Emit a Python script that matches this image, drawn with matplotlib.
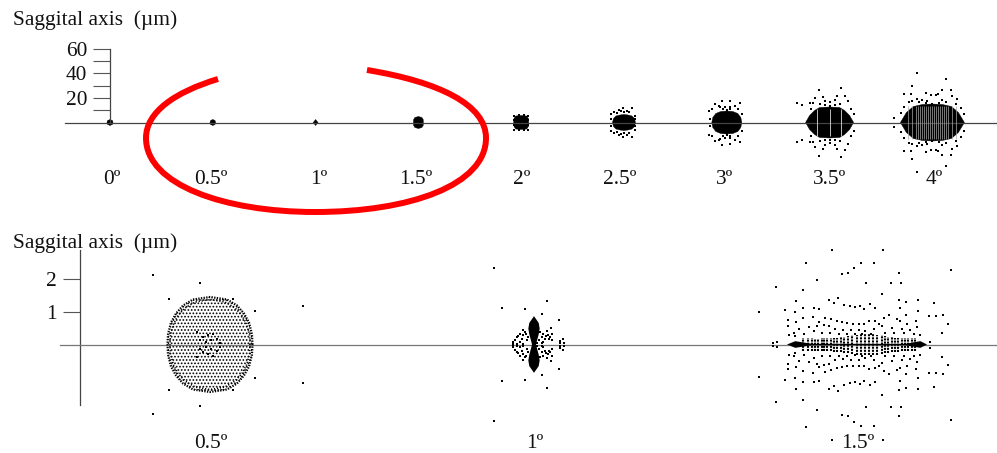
import numpy as np
import matplotlib
matplotlib.use("Agg")
import matplotlib.pyplot as plt
from matplotlib.patches import PathPatch, Polygon
from matplotlib.path import Path

plt.rcParams["font.family"] = ["Liberation Serif", "DejaVu Serif"]
plt.rcParams["hatch.linewidth"] = 0.8

W, H = 997, 453
FS = 15.4

# top panel: field angles and blob outlines (half width, height in px, upper half)
top_fields = [0, 0.5, 1, 1.5, 2, 2.5, 3, 3.5, 4]
top_labels = ["0º", "0.5º", "1º", "1.5º", "2º", "2.5º", "3º", "3.5º", "4º"]
top_label_px = [112, 211, 319, 416, 522, 620, 725, 830, 934]
blob_w = [[3, 2.6, 0], [2.8, 2.2, 0], [2.5, 1.5, 0], [5, 4.8, 3.5, 0], [7.5, 7.2, 5.5, 0],
          [11.5, 10.5, 8, 4, 0], [15, 14, 11, 6, 0], [24, 20, 15, 10, 0], [32, 26, 19, 10, 0]]
blob_h = [[0, 1.8, 3], [0, 2, 3], [0, 1, 3], [0, 3, 5, 6], [0, 4, 6.5, 7],
          [0, 4, 6.5, 7.5, 8], [0, 5, 9, 11, 11.5], [0, 7, 12, 15, 15.5], [0, 10, 16, 18, 18.5]]

f05_x = [632, 650, 640]
f05_y = [358, 362, 355]
f2_x = [100, 115, 130, 142, 100, 142]
f2_y = [165, 163, 163, 165, 178, 178]
f25_x = [428, 455, 415, 400, 445, 392, 462, 410, 430, 392, 462, 420, 440]
f25_y = [142, 142, 148, 155, 155, 175, 165, 158, 155, 160, 175, 152, 150]
f3_x = [720, 745, 775, 700, 690, 683, 730, 745, 760, 685, 712, 770, 780, 725, 735, 745, 715]
f3_y = [120, 122, 128, 130, 145, 150, 140, 140, 135, 175, 135, 145, 160, 145, 148, 145, 138]
f35_x = [118, 183, 130, 172, 195, 205, 100, 92, 68, 52, 135, 150, 165, 105, 222, 215, 120, 182, 95, 135, 150, 165]
f35_y = [87, 82, 108, 106, 105, 122, 127, 127, 133, 128, 120, 125, 118, 112, 160, 145, 130, 130, 145, 133, 135, 133]
f4_x = [414, 502, 398, 375, 397, 441, 455, 470, 478, 490, 515, 518, 535, 415, 430, 365, 345, 390, 400,
        530, 545, 555, 445, 490, 375, 420, 440, 460, 480, 500]
f4_y = [38, 57, 77, 100, 100, 98, 103, 103, 100, 88, 88, 107, 115, 115, 118, 157, 172, 125, 122,
        130, 142, 160, 122, 118, 140, 125, 128, 130, 128, 125]
stripes_4 = [-24, -20, -16, -14, -12, -10, -8, -6, -4, -2, 0, 2, 4, 6, 8, 10, 12, 14, 16, 20, 24]
stripes_35 = [-13, 0, 11]

# bottom panel
bot_labels = ["0.5º", "1º", "1.5º"]
bot_label_px = [211, 535, 858]
blob05_w = [42.5, 42, 39, 34, 27, 17, 0]
blob05_h = [0, 10, 22, 31, 39, 45, 47.5]
rim05_w = [40, 39.5, 36.5, 32, 25, 15, 0]
rim05_h = [0, 9.5, 20.5, 29, 36.5, 42.5, 45]
spots05_x = [460, 600, 507, 700, 765, 909]
spots05_y = [150, 173, 222, 222, 258, 243]
dark05_x = [625, 610, 640, 600, 632, 650, 618, 590, 660]
dark05_y = [330, 335, 325, 345, 345, 340, 350, 320, 352]

arrow_w = [0, 14, 17, 14, 9, 6]
arrow_h = [85, 65, 48, 30, 12, 0]
spots1_x = [42, 67, 135, 200, 185, 237, 212, 215, 250, 240, 252, 240, 100, 98, 110, 120, 130, 135, 125,
            120, 130, 140, 110, 180, 190, 205, 215, 195, 190, 200, 210, 175, 185, 105, 115, 128, 138, 145,
            178, 186, 198, 208, 170]
spots1_y = [-96, 24, 27, 3, 41, 60, 84, 100, 117, 122, 128, 128, 125, 132, 110, 100, 105, 95, 115,
            125, 130, 120, 130, 95, 100, 105, 120, 115, 125, 92, 110, 88, 110, 118, 108, 88, 100, 110,
            120, 128, 108, 115, 128]

spindle_x = [125, 150, 200, 480, 525, 545]
spindle_y = [315, 305, 313, 313, 305, 315]
col_x = [40, 55, 65, 75, 85, 95, 103, 112, 122, 132, 142, 152, 162, 175, 187, 200, 212, 225, 238,
         250, 262, 275, 285, 295, 305, 315, 325, 335, 345, 355, 365, 375]
col_h = [20, 19, 20, 18, 18, 19, 19, 20, 20, 21, 21, 22, 24, 26, 28, 30, 32, 32, 32,
         32, 30, 28, 26, 24, 22, 21, 21, 20, 20, 19, 20, 20]
spots15_x = [261, 414, 182, 348, 387, 327, 618, 291, 308, 462, 216, 363, 437, 468, 92, 173, 411, 279,
             250, 265, 153, 460, 483, 518, 567, 296, 314, 328, 345, 357, 375, 388, 222, 207, 174, 119,
             150, 42, 464, 518, 552, 572, 594, 483, 430, 415, 174, 202, 127, 153, 127, 608, 513, 486,
             455, 465, 591, 555, 82, 96, 222, 240, 258, 275, 290, 305, 322, 340, 355, 372, 388, 400,
             160, 190, 215, 235, 250, 268, 292, 318, 340, 360, 385, 410, 440, 470, 495, 515, 145, 175,
             205, 230, 255, 280, 305, 330, 350, 378, 420, 445, 475, 505, 130, 150, 525]
spots15_y = [30, 30, 69, 71, 71, 84, 90, 104, 101, 100, 120, 129, 129, 129, 143, 150, 164, 176,
             182, 191, 183, 180, 186, 182, 189, 195, 199, 203, 198, 207, 193, 204, 207, 204, 204, 210,
             216, 218, 205, 214, 230, 230, 226, 226, 226, 235, 236, 231, 241, 248, 258, 254, 243, 252,
             239, 245, 279, 306, 310, 308, 247, 234, 238, 245, 248, 250, 252, 252, 252, 243, 245, 252,
             267, 263, 258, 255, 258, 268, 272, 270, 270, 275, 268, 260, 265, 268, 272, 262, 280, 283,
             275, 280, 281, 282, 282, 283, 282, 282, 280, 280, 280, 282, 285, 290, 285]

# red hand drawn loop: bezier vertices, px in the figure
red_x = [218, 175, 146, 146, 146, 225, 315, 410, 486, 486, 486, 440, 367]
red_y = [79, 92, 112, 138, 185, 212, 212, 212, 185, 138, 105, 82, 70]

fig = plt.figure(figsize=(W / 100, H / 100), dpi=100)


def panel(y_top, y_bot):
    a = fig.add_axes([0, 1 - y_bot / H, 1, (y_bot - y_top) / H])
    a.patch.set_alpha(0)
    for s in ["top", "right"]:
        a.spines[s].set_visible(False)
    a.xaxis.set_visible(False)
    return a


def mirrored(a, x0, cx, cy, xs, ys, ppx, ppy, s=0.75):
    dx = (np.array(xs) - cx) / 3 / ppx
    dy = (cy - np.array(ys)) / 3 / ppy
    a.scatter(x0 + np.r_[dx, dx], np.r_[dy, -dy], s=s, c="k", marker="s", linewidths=0, zorder=3)


def outline(x0, w, h):
    return np.c_[x0 + np.r_[w, -w[::-1], -w, w[::-1]], np.r_[h, h[::-1], -h, -h[::-1]]]


# ---- top panel ----
ax1 = panel(0, 225)
top_ppx, top_ppy = 205.6, 1.233
y0_1 = 122.5
ax1.set_xlim(-110 / top_ppx, (W - 110) / top_ppx)
ax1.set_ylim((y0_1 - 225) / top_ppy, y0_1 / top_ppy)
ax1.spines["left"].set_position(("axes", 110 / W))
ax1.spines["left"].set_bounds(0, 60)
ax1.spines["bottom"].set_position(("data", 0))
ax1.spines["bottom"].set_bounds(-45 / top_ppx, (W - 110) / top_ppx)
ax1.set_yticks([10, 20, 30, 40, 50, 60], ["", "20", "", "40", "", "60"], fontsize=FS, color="#111111")
ax1.tick_params(axis="y", length=12.5, width=0.8, color="#555555", pad=4)
for s in ["left", "bottom"]:
    ax1.spines[s].set_color("#444444")
    ax1.spines[s].set_linewidth(0.9)

for f, w, h in zip(top_fields, blob_w, blob_h):
    xy = outline(f, np.array(w, float) / top_ppx, np.array(h, float) / top_ppy)
    ax1.add_patch(Polygon(xy, closed=True, fc="k", ec="k", lw=0.3, zorder=2))

ax1.vlines(4 + np.array(stripes_4) / top_ppx, -13, 13, color="#aaaaaa", lw=0.5, zorder=3)
ax1.vlines(3.5 + np.array(stripes_35) / top_ppx, -11, 11, color="#dddddd", lw=0.6, zorder=3)
mirrored(ax1, 0.5, 638, 368, f05_x, f05_y, top_ppx, top_ppy, s=0.5)
mirrored(ax1, 2, 121, 186, f2_x, f2_y, top_ppx, top_ppy, s=0.6)
mirrored(ax1, 2.5, 430, 186, f25_x, f25_y, top_ppx, top_ppy, s=0.6)
mirrored(ax1, 3, 735, 186, f3_x, f3_y, top_ppx, top_ppy, s=0.6)
mirrored(ax1, 3.5, 150, 186, f35_x, f35_y, top_ppx, top_ppy, s=0.6)
mirrored(ax1, 4, 460, 186, f4_x, f4_y, top_ppx, top_ppy, s=0.6)

for lab, px in zip(top_labels, top_label_px):
    ax1.text(px / W, 1 - 180 / 225, lab, transform=ax1.transAxes, ha="center", va="center",
             fontsize=FS, color="#111111")
ax1.text(13 / W, 1 - 20 / 225, "Saggital axis  (µm)", transform=ax1.transAxes, ha="left", va="center",
         fontsize=FS, color="#111111")

# ---- bottom panel ----
ax2 = panel(225, 453)
bot_ppx, bot_ppy = 648.0, 32.7
y0_2 = 344.5 - 225
ax2.set_xlim((0 - 534) / bot_ppx + 1, (W - 534) / bot_ppx + 1)
ax2.set_ylim((y0_2 - 228) / bot_ppy, y0_2 / bot_ppy)
ax2.spines["left"].set_position(("axes", 80 / W))
ax2.spines["left"].set_bounds(-1.85, 2.89)
ax2.spines["bottom"].set_position(("data", 0))
ax2.spines["bottom"].set_bounds(1 + (60 - 534) / bot_ppx, 1 + (W - 534) / bot_ppx)
ax2.set_yticks([1, 2], ["1", "2"], fontsize=FS, color="#111111")
ax2.tick_params(axis="y", length=12.5, width=0.8, color="#555555", pad=4)
ax2.spines["left"].set_color("#444444")
ax2.spines["left"].set_linewidth(0.9)
ax2.spines["bottom"].set_color("#777777")
ax2.spines["bottom"].set_linewidth(0.9)

# 0.5 deg spot: stippled disc with a darker rim
xy = outline(0.5, np.array(blob05_w) / bot_ppx, np.array(blob05_h) / bot_ppy)
ax2.add_patch(Polygon(xy, closed=True, fc="none", ec="k", lw=0, hatch=".....", zorder=2))
ax2.plot(xy[:, 0], xy[:, 1], color="k", lw=1.6, ls=(0, (0.6, 0.6)), zorder=3)
xy = outline(0.5, np.array(rim05_w) / bot_ppx, np.array(rim05_h) / bot_ppy)
ax2.plot(xy[:, 0], xy[:, 1], color="k", lw=1.2, ls=(0, (0.7, 1.1)), zorder=3)
mirrored(ax2, 0.5, 630, 358, spots05_x, spots05_y, bot_ppx, bot_ppy)
mirrored(ax2, 0.5, 630, 358, dark05_x, dark05_y, bot_ppx, bot_ppy)

# 1 deg spot
xy = outline(1, np.array(arrow_w) / 3 / bot_ppx, np.array(arrow_h) / 3 / bot_ppy)
ax2.add_patch(Polygon(xy, closed=True, fc="k", ec="none", zorder=3))
mirrored(ax2, 1, 162, 133, spots1_x, spots1_y, bot_ppx, bot_ppy)

# 1.5 deg spot
dx = (np.array(spindle_x) - 338) / 3 / bot_ppx
dy = (315 - np.array(spindle_y)) / 3 / bot_ppy
ax2.add_patch(Polygon(np.c_[1.5 + np.r_[dx, dx[::-1]], np.r_[dy, -dy[::-1]]], closed=True, fc="k", ec="none", zorder=3))
cx = 1.5 + (790 + np.array(col_x) / 3 - 858) / bot_ppx
ch = np.array(col_h) / 3 / bot_ppy
ax2.vlines(cx, -ch, ch, color="k", lw=1.5, ls=(0, (1.0, 0.5)), zorder=3)
mirrored(ax2, 1.5, 338, 315, spots15_x, spots15_y, bot_ppx, bot_ppy)

for lab, px in zip(bot_labels, bot_label_px):
    ax2.text(px / W, 1 - (443 - 225) / 228, lab, transform=ax2.transAxes, ha="center", va="center",
             fontsize=FS, color="#111111")
ax2.text(13 / W, 1 - (243 - 225) / 228, "Saggital axis  (µm)", transform=ax2.transAxes, ha="left", va="center",
         fontsize=FS, color="#111111")

# ---- red loop on top of everything ----
ov = fig.add_axes([0, 0, 1, 1])
ov.set_xlim(0, W)
ov.set_ylim(H, 0)
ov.axis("off")
codes = [Path.MOVETO] + [Path.CURVE4] * (len(red_x) - 1)
ov.add_patch(PathPatch(Path(np.c_[red_x, red_y], codes), fc="none", ec="#ff0000", lw=4.3, capstyle="butt", zorder=5))

fig.savefig("out.png", dpi=100)
plt.close(fig)
